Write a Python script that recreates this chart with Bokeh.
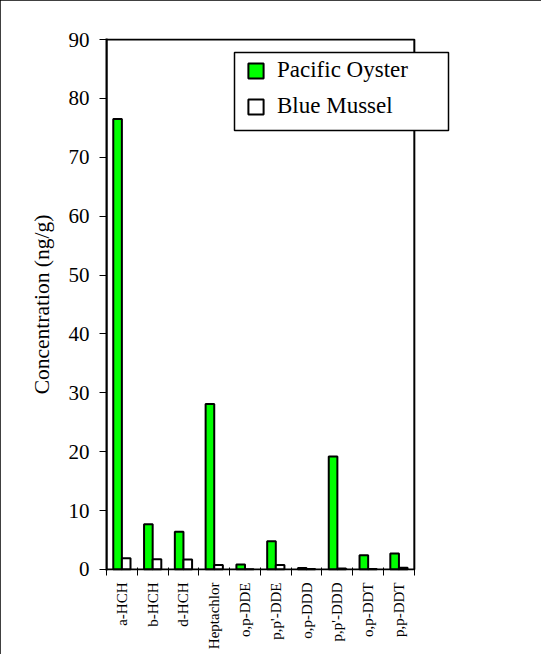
import math
from bokeh.plotting import figure
from bokeh.models import (ColumnDataSource, Range1d, FixedTicker, Legend, LegendItem, BoxAnnotation)
from bokeh.transform import dodge
from bokeh.embed import file_html
from bokeh.resources import INLINE

categories = ["a-HCH", "b-HCH", "d-HCH", "Heptachlor", "o,p-DDE", "p,p'-DDE",
              "o,p-DDD", "p,p'-DDD", "o,p-DDT", "p,p-DDT"]
pacific_oyster = [76.5, 7.7, 6.4, 28.1, 0.85, 4.8, 0.25, 19.2, 2.4, 2.7]
blue_mussel = [1.9, 1.75, 1.7, 0.75, 0.05, 0.75, 0.1, 0.15, 0.1, 0.3]
y_ticks = [0, 10, 20, 30, 40, 50, 60, 70, 80, 90]
y_min, y_max = 0, 90

n = len(categories)
src = ColumnDataSource(dict(x=list(range(n)), oyster=pacific_oyster, mussel=blue_mussel))

FONT = "Liberation Serif"
W, H = 541, 654
ypad = 0.17        # about one pixel of slack so the axes box lines are not clipped
xextra = 1.5       # room right of the axes box for the legend that overhangs it

p = figure(width=W, height=H, output_backend="svg", toolbar_location=None,
           x_range=Range1d(-0.5, n - 0.5 + xextra),
           y_range=Range1d(y_min - ypad, y_max + ypad))
p.min_border_left = 106
p.min_border_right = 81
p.min_border_top = 38
p.min_border_bottom = 84
p.styles = {"outline": "1px solid black", "outline-offset": "-1px"}
p.background_fill_color = "white"
p.border_fill_color = "white"
p.outline_line_color = None
p.xgrid.visible = False
p.ygrid.visible = False

# axes box
box = BoxAnnotation(left=-0.5, right=n - 0.5, bottom=y_min, top=y_max,
                    fill_alpha=0, line_color="black", line_alpha=1, line_width=2)
p.add_layout(box)

w = 0.28
r1 = p.vbar(x=dodge("x", -w / 2, range=p.x_range), top="oyster", width=w, source=src,
            fill_color="#00ff00", line_color="black", line_width=2)
r2 = p.vbar(x=dodge("x", w / 2, range=p.x_range), top="mussel", width=w, source=src,
            fill_color="white", line_color="black", line_width=2)

# x axis: labels at category centers, ticks at category boundaries
xa = p.xaxis[0]
xa.ticker = FixedTicker(ticks=list(range(n)), minor_ticks=[i - 0.5 for i in range(n + 1)])
xa.major_label_overrides = {i: c for i, c in enumerate(categories)}
xa.major_label_orientation = math.pi / 2
xa.major_label_text_font = FONT
xa.major_label_text_font_size = "15px"
xa.major_label_text_color = "black"
xa.major_tick_line_color = None
xa.major_tick_out = 5
xa.major_tick_in = 0
xa.major_label_standoff = 7
xa.minor_tick_line_color = "black"
xa.minor_tick_line_width = 1
xa.minor_tick_in = 3
xa.minor_tick_out = 5
xa.axis_line_color = None

ya = p.yaxis[0]
ya.ticker = FixedTicker(ticks=y_ticks)
ya.major_label_text_font = FONT
ya.major_label_text_font_size = "21px"
ya.major_label_text_color = "black"
ya.major_tick_line_color = "black"
ya.major_tick_line_width = 1
ya.major_tick_out = 7
ya.major_tick_in = 0
ya.minor_tick_line_color = None
ya.major_label_standoff = 10
ya.axis_line_color = "black"
ya.axis_line_width = 2
ya.axis_label = "Concentration (ng/g)"
ya.axis_label_text_font = FONT
ya.axis_label_text_font_size = "21.5px"
ya.axis_label_text_font_style = "normal"
ya.axis_label_text_color = "black"
ya.axis_label_standoff = 12

# legend frame
legbox = BoxAnnotation(left=234, right=448, top=52, bottom=130,
                       left_units="canvas", right_units="canvas",
                       top_units="canvas", bottom_units="canvas",
                       fill_color="white", fill_alpha=1,
                       line_color="black", line_alpha=1, line_width=1.5)
p.add_layout(legbox)

legend = Legend(items=[LegendItem(label="Pacific Oyster", renderers=[r1]),
                       LegendItem(label="Blue Mussel", renderers=[r2])],
                location=(140, 451))
legend.label_text_font = FONT
legend.label_text_font_size = "23px"
legend.label_text_color = "black"
legend.glyph_width = 19
legend.glyph_height = 19
legend.label_standoff = 12
legend.label_height = 20
legend.padding = 8
legend.spacing = 10
legend.margin = 0
legend.border_line_color = None
legend.background_fill_alpha = 0
p.add_layout(legend, "center")

open("out.html", "w").write(file_html(p, INLINE))
